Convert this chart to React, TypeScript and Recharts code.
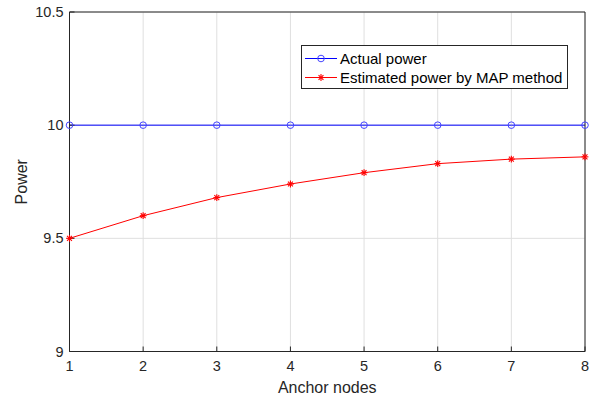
import React from 'react';
import { LineChart, Line, XAxis, YAxis, CartesianGrid } from 'recharts';

const anchorNodes = [1, 2, 3, 4, 5, 6, 7, 8];
const actualPower = [10, 10, 10, 10, 10, 10, 10, 10];
const estimatedPower = [9.5, 9.6, 9.68, 9.74, 9.79, 9.83, 9.85, 9.86];
const xTicks = [1, 2, 3, 4, 5, 6, 7, 8];
const yTicks = [9, 9.5, 10, 10.5];
const seriesNames = ['Actual power', 'Estimated power by MAP method'];

const data = anchorNodes.map((x, i) => ({ x, actual: actualPower[i], estimated: estimatedPower[i] }));

const FONT = '"Liberation Sans", Arial, Helvetica, sans-serif';
const AX = '#262626';

const Circle = (props: any) => {
  const { cx, cy } = props;
  if (cx == null || cy == null) return null;
  return <circle cx={cx} cy={cy} r={3.3} fill="none" stroke="#4444ff" strokeWidth={1} />;
};

const Star = (props: any) => {
  const { cx, cy } = props;
  if (cx == null || cy == null) return null;
  const r = 3.4;
  const d = r * 0.72;
  return (
    <g stroke="#ff0000" strokeWidth={1.1}>
      <line x1={cx - r} y1={cy} x2={cx + r} y2={cy} />
      <line x1={cx} y1={cy - r} x2={cx} y2={cy + r} />
      <line x1={cx - d} y1={cy - d} x2={cx + d} y2={cy + d} />
      <line x1={cx - d} y1={cy + d} x2={cx + d} y2={cy - d} />
    </g>
  );
};

const YLabel = (props: any) => {
  const vb = props.viewBox || {};
  const cx = vb.x + 21;
  const cy = vb.y + vb.height / 2;
  return (
    <text x={cx} y={cy} transform={`rotate(-90 ${cx} ${cy})`} textAnchor="middle" dominantBaseline="central"
      fontFamily={FONT} fontSize={16} fill={AX}>Power</text>
  );
};

const XLabel = (props: any) => {
  const vb = props.viewBox || {};
  return (
    <text x={vb.x + vb.width / 2} y={vb.y + 41.5} textAnchor="middle" fontFamily={FONT} fontSize={16} fill={AX}>
      Anchor nodes
    </text>
  );
};

export default function App() {
  return (
    <div style={{ position: 'absolute', left: 0, top: 0, width: 598, height: 401, background: '#fff' }}>
      <LineChart width={598} height={401} data={data} margin={{ top: 11, right: 12, bottom: 0, left: 0 }}>
        <CartesianGrid stroke="#dfdfdf" strokeWidth={1} />
        <XAxis dataKey="x" type="number" domain={[1, 8]} ticks={xTicks} height={49.5}
          stroke={AX} tickSize={-5} tickMargin={14}
          tick={{ fontFamily: FONT, fontSize: 14.5, fill: AX }} label={<XLabel />} />
        <XAxis xAxisId="top" orientation="top" dataKey="x" type="number" domain={[1, 8]} ticks={xTicks} height={1}
          stroke={AX} tickSize={-5} tick={false} />
        <YAxis type="number" domain={[9, 10.5]} ticks={yTicks} width={69.5}
          stroke={AX} tickSize={-5} tickMargin={11}
          tick={{ fontFamily: FONT, fontSize: 14.5, fill: AX }} label={<YLabel />} />
        <YAxis yAxisId="right" orientation="right" type="number" domain={[9, 10.5]} ticks={yTicks} width={1}
          stroke={AX} tickSize={-5} tick={false} />
        <Line dataKey="actual" name={seriesNames[0]} stroke="#0000ff" strokeWidth={1} dot={<Circle />}
          activeDot={false} isAnimationActive={false} />
        <Line dataKey="estimated" name={seriesNames[1]} stroke="#ff0000" strokeWidth={1} dot={<Star />}
          activeDot={false} isAnimationActive={false} />
      </LineChart>
      <svg width={598} height={401} style={{ position: 'absolute', left: 0, top: 0, pointerEvents: 'none' }}>
        <rect x={301.5} y={45.5} width={266} height={43} fill="#fff" stroke={AX} strokeWidth={1} />
        <line x1={305} y1={58.5} x2={337} y2={58.5} stroke="#0000ff" strokeWidth={1} />
        <Circle cx={321} cy={58.5} />
        <text x={340} y={58.5} dominantBaseline="central" fontFamily={FONT} fontSize={15} fill="#000">{seriesNames[0]}</text>
        <line x1={305} y1={77.5} x2={337} y2={77.5} stroke="#ff0000" strokeWidth={1} />
        <Star cx={321} cy={77.5} />
        <text x={340} y={77.5} dominantBaseline="central" fontFamily={FONT} fontSize={15} fill="#000">{seriesNames[1]}</text>
      </svg>
    </div>
  );
}
